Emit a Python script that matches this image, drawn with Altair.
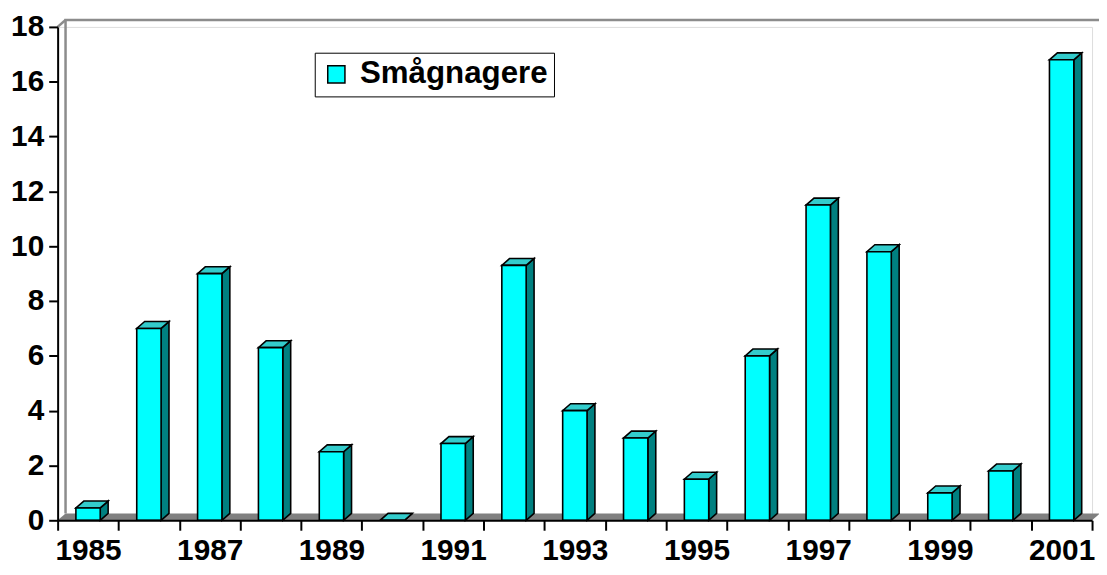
import altair as alt
import pandas as pd

years = list(range(1985, 2002))
values = [0.45, 7.0, 9.0, 6.3, 2.5, 0.0, 2.8, 9.3, 4.0, 3.0, 1.5, 6.0, 11.5, 9.8, 1.0, 1.8, 16.8]
series_name = "Smågnagere"
y_ticks = list(range(0, 19, 2))

# 3-D geometry (in data units)
HW = 0.2      # half width of the front face (years)
DX = 0.13     # depth, horizontal (years)
DD = 0.252    # depth, vertical (value units)
X0, X1 = 1984.5, 2001.5
YMAX = 18

FONT = "Liberation Sans"

front = pd.DataFrame({
    "lo": [y - HW for y in years],
    "hi": [y + HW for y in years],
    "v0": [0.0] * len(years),
    "v": values,
    "series": [series_name] * len(years),
})

side_rows = []
top_rows = []
for y, v in zip(years, values):
    side_rows.append({"yr": y, "x": y + HW, "ya": 0.0, "yb": v})
    side_rows.append({"yr": y, "x": y + HW + DX, "ya": DD, "yb": v + DD})
    top_rows.append({"yr": y, "y": v, "xa": y - HW, "xb": y + HW})
    top_rows.append({"yr": y, "y": v + DD, "xa": y - HW + DX, "xb": y + HW + DX})
side = pd.DataFrame(side_rows)
top = pd.DataFrame(top_rows)

floor = pd.DataFrame({
    "y": [0.0, DD],
    "xa": [X0, X0 + DX],
    "xb": [X1, X1 + DX],
})

walls = pd.DataFrame({
    "seg": ["a", "a", "a", "b", "b"],
    "ord": [0, 1, 2, 0, 1],
    "x": [X0 + DX, X0 + DX, X1 + DX, X0, X0 + DX],
    "y": [DD, YMAX + DD, YMAX + DD, YMAX, YMAX + DD],
})

xscale = alt.Scale(domain=[X0, X1], nice=False, zero=False)
yscale = alt.Scale(domain=[0, YMAX], nice=False, zero=False)

xaxis = alt.Axis(
    title=None,
    values=[X0 + i for i in range(18)],
    labelExpr="datum.value % 2 == 0.5 ? format(datum.value + 0.5, 'd') : ''",
    labelOffset=30.6,
    labelOverlap=False,
    labelFlush=False,
    labelBound=False,
    labelFont=FONT,
    labelFontWeight="bold",
    labelFontSize=30,
    labelColor="black",
    labelPadding=6,
    tickSize=10,
    tickWidth=2,
    tickColor="black",
    domainColor="black",
    domainWidth=2,
    grid=False,
    zindex=1,
)
yaxis = alt.Axis(
    title=None,
    values=y_ticks,
    labelFont=FONT,
    labelFontWeight="bold",
    labelFontSize=30,
    labelColor="black",
    labelPadding=5,
    tickSize=9,
    tickWidth=2,
    tickColor="black",
    domainColor="black",
    domainWidth=2,
    grid=False,
    zindex=1,
)

floor_layer = alt.Chart(floor).mark_area(orient="horizontal", color="#808080").encode(
    y=alt.Y("y:Q", scale=yscale, axis=yaxis, stack=False),
    x=alt.X("xa:Q", scale=xscale, axis=xaxis),
    x2="xb:Q",
)

wall_layer = alt.Chart(walls).mark_line(color="#8c8c8c", strokeWidth=2.5).encode(
    x=alt.X("x:Q", scale=xscale, axis=xaxis),
    y=alt.Y("y:Q", scale=yscale, axis=yaxis),
    detail="seg:N",
    order="ord:Q",
)

side_layer = alt.Chart(side).mark_area(
    orient="vertical", color="#008080", stroke="black", strokeWidth=1.6, strokeJoin="miter"
).encode(
    x=alt.X("x:Q", scale=xscale, axis=xaxis),
    y=alt.Y("ya:Q", scale=yscale, axis=yaxis, stack=False),
    y2="yb:Q",
    detail="yr:N",
)

top_layer = alt.Chart(top).mark_area(
    orient="horizontal", color="#33CCCC", stroke="black", strokeWidth=1.6, strokeJoin="miter"
).encode(
    y=alt.Y("y:Q", scale=yscale, axis=yaxis, stack=False),
    x=alt.X("xa:Q", scale=xscale, axis=xaxis),
    x2="xb:Q",
    detail="yr:N",
)

front_layer = alt.Chart(front).mark_rect(stroke="black", strokeWidth=1.6).encode(
    x=alt.X("lo:Q", scale=xscale, axis=xaxis),
    x2="hi:Q",
    y=alt.Y("v0:Q", scale=yscale, axis=yaxis),
    y2="v:Q",
    color=alt.Color(
        "series:N",
        scale=alt.Scale(domain=[series_name], range=["#00FFFF"]),
        legend=alt.Legend(
            title=None,
            orient="none",
            legendX=259,
            legendY=26,
            strokeColor="black",
            fillColor="white",
            padding=6,
            symbolType="square",
            symbolSize=300,
            symbolStrokeColor="black",
            symbolStrokeWidth=1.5,
            symbolFillColor="#00FFFF",
            labelFont=FONT,
            labelFontWeight="bold",
            labelFontSize=31.5,
            labelColor="black",
            labelOffset=8,
            labelLimit=600,
        ),
    ),
)

chart = alt.layer(floor_layer, wall_layer, side_layer, top_layer, front_layer).properties(
    width=1042,
    height=497,
    padding={"left": 50, "top": 17, "right": 7, "bottom": 45},
    autosize=alt.AutoSizeParams(type="none"),
).configure_view(stroke=None).configure(background="white")

chart.save("out.html", embed_options={"renderer": "svg", "actions": False})
